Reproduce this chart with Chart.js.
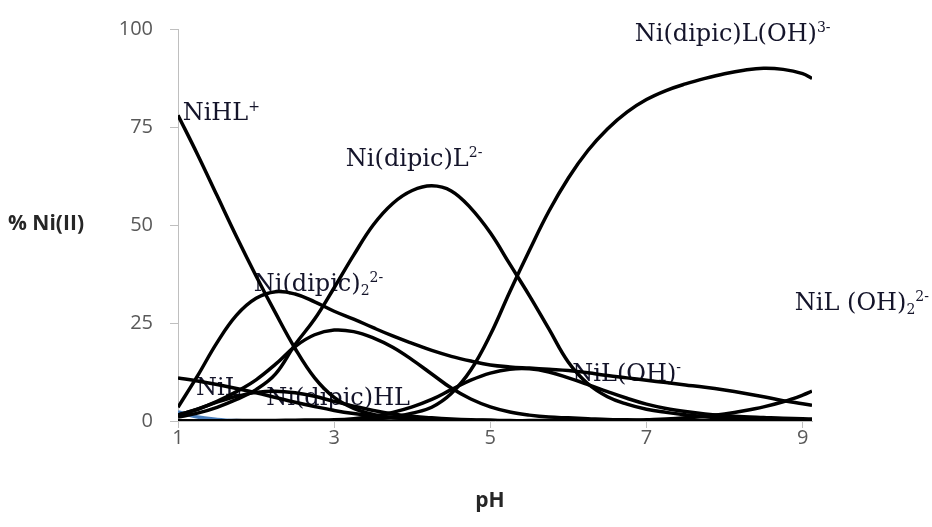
<!DOCTYPE html>
<html>
<head>
<meta charset="utf-8">
<script src="https://cdn.jsdelivr.net/npm/chart.js@4.4.0/dist/chart.umd.min.js"></script>
<style>
  html, body { margin: 0; padding: 0; background: #fff; }
</style>
</head>
<body>
<canvas id="speciesChart" width="932" height="527"></canvas>
<script>
// pH grid
const ph = [1.00, 1.25, 1.50, 1.75, 2.00, 2.25, 2.50, 2.75, 3.00, 3.25, 3.50, 3.75, 4.00, 4.25, 4.50, 4.75, 5.00,
            5.25, 5.50, 5.75, 6.00, 6.25, 6.50, 6.75, 7.00, 7.25, 7.50, 7.75, 8.00, 8.25, 8.50, 8.75, 9.00, 9.12];

// % Ni(II) for each species
const niHL = [78, 68, 57.5, 47, 37, 27.5, 18.5, 11, 6, 3.2, 1.7, 0.9, 0.5, 0.3, 0.2, 0.1, 0.1,
              0, 0, 0, 0, 0, 0, 0, 0, 0, 0, 0, 0, 0, 0, 0, 0, 0];
const niDipic2 = [3.5, 11.5, 20, 27, 31.3, 33, 32.4, 30.4, 28, 26, 23.8, 21.7, 19.8, 18, 16.5, 15.3, 14.3,
                  13.8, 13.5, 13.2, 12.9, 12.3, 11.6, 11, 10.4, 9.8, 9.2, 8.6, 7.9, 7.1, 6.2, 5.2, 4.4, 4.0];
const niL = [11, 10.2, 9.3, 8.3, 7.2, 6, 4.8, 3.7, 2.7, 1.9, 1.3, 0.9, 0.6, 0.4, 0.3, 0.2, 0.1,
             0, 0, 0, 0, 0, 0, 0, 0, 0, 0, 0, 0, 0, 0, 0, 0, 0];
const niDipicHL = [1.5, 3, 4.8, 6.3, 7.3, 7.6, 7.2, 6.3, 5, 3.8, 2.7, 1.8, 1.2, 0.8, 0.5, 0.3, 0.2,
                   0.1, 0.1, 0.1, 0.1, 0, 0, 0, 0, 0, 0, 0, 0, 0, 0, 0, 0, 0];
const niDipicL = [1, 2, 3.5, 5.5, 8, 12, 19.5, 26, 34, 42.3, 50, 55.5, 58.8, 60, 58.7, 54.3, 48,
                  40, 32, 23.5, 15, 9.5, 6.2, 4.3, 3, 2.2, 1.6, 1.1, 0.8, 0.5, 0.4, 0.3, 0.2, 0.2];
const unlabelled = [1.5, 3, 5, 7.5, 10.5, 14.5, 19, 22, 23.2, 22.8, 21.2, 18.8, 15.6, 12, 8.4, 5.6, 3.6,
                    2.3, 1.5, 1, 0.8, 0.6, 0.4, 0.3, 0.2, 0.1, 0.1, 0.1, 0.1, 0.1, 0.1, 0.1, 0.1, 0.1];
const niDipicLOH = [0, 0, 0, 0, 0, 0, 0, 0, 0, 0.2, 0.5, 1, 2, 3.5, 7, 13, 22,
                    33, 43.5, 53.5, 62, 69, 74.5, 78.8, 82, 84.3, 86, 87.4, 88.6, 89.5, 90, 89.7, 88.6, 87.4];
const niLOH = [0, 0, 0.05, 0.1, 0.1, 0.15, 0.2, 0.25, 0.3, 0.6, 1.2, 2.2, 3.6, 5.5, 8, 10.4, 12.2,
               13.2, 13.3, 12.5, 11, 9.3, 7.5, 5.8, 4.3, 3.2, 2.4, 1.8, 1.4, 1.1, 0.9, 0.7, 0.6, 0.5];
const niLOH2 = [0, 0, 0, 0, 0, 0, 0, 0, 0, 0, 0, 0, 0, 0, 0, 0, 0,
                0, 0, 0, 0, 0, 0, 0.1, 0.3, 0.5, 0.8, 1.2, 1.8, 2.6, 3.6, 4.9, 6.6, 7.6];
// short blue trace near pH 1 (only its first points show)
const blueSeries = [2.3, 1, 0.4, 0.1, 0];

// axis ticks
const xTicks = [1, 3, 5, 7, 9];
const yTicks = [0, 25, 50, 75, 100];

// curve labels: text pieces, anchor in data units (pH, %)
const curveLabels = [
    { parts: [['NiHL', ''], ['+', 'sup']], x: 1.06, y: 76.8 },
    { parts: [['Ni(dipic)L', ''], ['2-', 'sup']], x: 3.15, y: 65.0 },
    { parts: [['Ni(dipic)L(OH)', ''], ['3-', 'sup']], x: 6.85, y: 97.0 },
    { parts: [['Ni(dipic)', ''], ['2', 'sub'], ['2-', 'sup']], x: 1.97, y: 33.1 },
    { parts: [['NiL', '']], x: 1.23, y: 6.6 },
    { parts: [['Ni(dipic)HL', '']], x: 2.13, y: 4.0 },
    { parts: [['NiL(OH)', ''], ['-', 'sup']], x: 6.05, y: 10.1 },
    { parts: [['NiL (OH)', ''], ['2', 'sub'], ['2-', 'sup']], x: 8.9, y: 28.3 },
];

const toPoints = values => values.map((v, i) => ({ x: ph[i], y: v }));

const lineSet = (values, color) => ({
    data: toPoints(values),
    borderColor: color || '#000',
    borderWidth: 3.5,
    pointRadius: 0,
    tension: 0.4,
    fill: false,
});

const labelPlugin = {
    id: 'curveLabels',
    beforeDatasetsDraw(chart) {
        const { ctx, scales } = chart;
        ctx.save();
        ctx.textBaseline = 'alphabetic';
        ctx.fillStyle = '#14142a';
        curveLabels.forEach(lab => {
            let px = scales.x.getPixelForValue(lab.x);
            const py = scales.y.getPixelForValue(lab.y);
            lab.parts.forEach(([t, kind]) => {
                if (kind === 'sup') {
                    ctx.font = '14px "DejaVu Serif"';
                    ctx.fillText(t, px, py - 9);
                } else if (kind === 'sub') {
                    ctx.font = '14px "DejaVu Serif"';
                    ctx.fillText(t, px, py + 4);
                } else {
                    ctx.font = '24px "DejaVu Serif"';
                    ctx.fillText(t, px, py);
                }
                px += ctx.measureText(t).width;
            });
        });
        ctx.restore();
    },
    afterDraw(chart) {
        const { ctx } = chart;
        ctx.save();
        ctx.fillStyle = '#262626';
        ctx.font = 'bold 21px "Open Sans"';
        ctx.textBaseline = 'middle';
        ctx.textAlign = 'left';
        ctx.fillText('% Ni(II)', 8, 224);
        ctx.textAlign = 'center';
        ctx.fillText('pH', 490, 501);
        ctx.restore();
    },
};

const ctx = document.getElementById('speciesChart').getContext('2d');

new Chart(ctx, {
    type: 'line',
    data: {
        datasets: [
            lineSet(niHL),
            lineSet(niDipic2),
            lineSet(niL),
            lineSet(niDipicHL),
            lineSet(niDipicL),
            lineSet(unlabelled),
            lineSet(niDipicLOH),
            lineSet(niLOH),
            lineSet(niLOH2),
            lineSet(blueSeries, '#4a7ebb'),
        ],
    },
    options: {
        responsive: false,
        animation: false,
        layout: {
            padding: { left: 0, right: 120, top: 25, bottom: 0 },
        },
        plugins: {
            legend: { display: false },
            tooltip: { enabled: false },
        },
        scales: {
            x: {
                type: 'linear',
                min: 1,
                max: 9.12,
                afterFit: scale => { scale.height = 106; },
                afterBuildTicks: scale => { scale.ticks = xTicks.map(v => ({ value: v })); },
                grid: {
                    drawOnChartArea: false,
                    color: '#bfbfbf',
                    tickLength: 7,
                },
                border: { color: '#bfbfbf', width: 1 },
                ticks: {
                    color: '#595959',
                    font: { family: 'Open Sans', size: 20 },
                    padding: -2,
                    maxRotation: 0,
                },
            },
            y: {
                min: 0,
                max: 100,
                afterFit: scale => { scale.width = 178; },
                afterBuildTicks: scale => { scale.ticks = yTicks.map(v => ({ value: v })); },
                grid: {
                    drawOnChartArea: false,
                    color: '#bfbfbf',
                    tickLength: 8,
                },
                border: { color: '#bfbfbf', width: 1 },
                ticks: {
                    color: '#595959',
                    font: { family: 'Open Sans', size: 20 },
                    padding: 17,
                },
            },
        },
    },
    plugins: [labelPlugin],
});
</script>
</body>
</html>
